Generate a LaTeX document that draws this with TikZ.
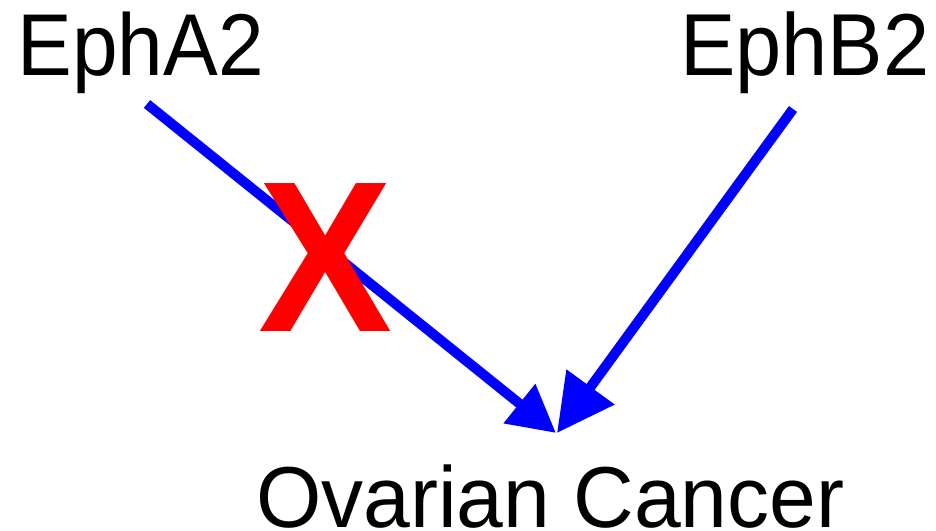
\documentclass[tikz,border=0pt]{standalone}
\usepackage{fontspec}
\setmainfont{Liberation Sans}
\usetikzlibrary{arrows.meta}
\definecolor{arrowblue}{RGB}{0,0,255}
\definecolor{xred}{RGB}{255,0,0}
\tikzset{
  lbl/.style={inner sep=0pt, outer sep=0pt, anchor=base west, text=black},
  conn/.style={draw=arrowblue, line width=10bp},
}
\begin{document}
\begin{tikzpicture}[x=1bp,y=-1bp]
\useasboundingbox (0,0) rectangle (936,531);
\node[lbl] (epha) at (17.5,76) {\scalebox{1}[1.07]{\fontsize{82bp}{90bp}\selectfont EphA2}};
\node[lbl] (ephb) at (680,76) {\scalebox{1}[1.06]{\fontsize{83bp}{90bp}\selectfont EphB2}};
\node[lbl] (ovc) at (256,527) {\scalebox{1}[1.03]{\fontsize{84bp}{90bp}\selectfont Ovarian Cancer}};
\coordinate (sA) at (147,104);
\coordinate (sB) at (793,109);
\coordinate (tA) at (556,433);
\coordinate (tB) at (557,433);
\draw[conn, -{Triangle[length=47bp, width=48bp]}, arrowblue] (sA) -- (tA);
\draw[conn, -{Triangle[length=57bp, width=57bp]}, arrowblue] (sB) -- (tB);
\node[lbl, text=xred] (xmark) at (258,332) {\scalebox{1}[1.07]{\fontsize{201bp}{210bp}\selectfont\bfseries X}};
\end{tikzpicture}
\end{document}
